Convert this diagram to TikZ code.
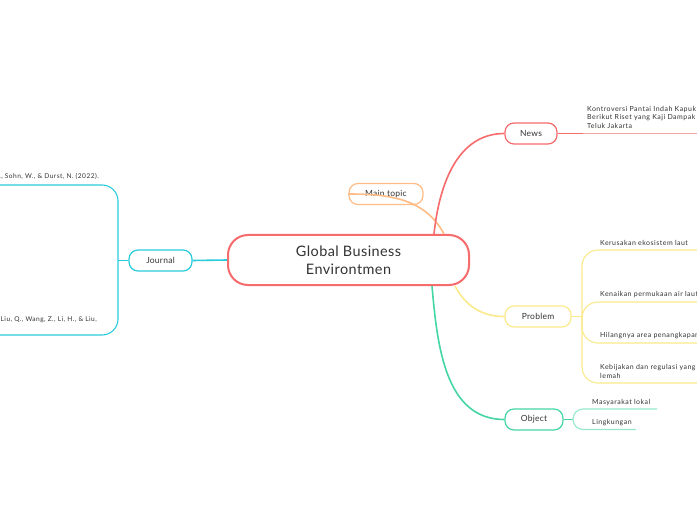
\documentclass[tikz,border=0pt]{standalone}
\usepackage{fontspec}
\setmainfont{Lato}[LetterSpace=3]
\newfontfamily\leaffont{Lato}[LetterSpace=7]
\usetikzlibrary{positioning,calc}

\definecolor{redm}{HTML}{F66B6B}
\definecolor{redl}{HTML}{F9A3A3}
\definecolor{orgm}{HTML}{FFBC86}
\definecolor{yelm}{HTML}{FBEA8C}
\definecolor{grnm}{HTML}{45D6A6}
\definecolor{grnl}{HTML}{95E8CC}
\definecolor{cyam}{HTML}{2ACCDB}
\definecolor{inkc}{HTML}{333333}

\begin{document}
\begin{tikzpicture}[
  x=1bp, y=-1bp,
  every node/.style={text=inkc},
  root/.style={rectangle, draw=redm, line width=2bp, rounded corners=20bp, minimum width=241bp, minimum height=50bp, font=\fontsize{14.5}{18}\selectfont, align=center},
  topic/.style={rectangle, draw, line width=1.2bp, rounded corners=9bp, minimum height=21bp, inner xsep=4bp, font=\fontsize{8.5}{10}\selectfont},
  leaf/.style={anchor=south west, inner sep=0pt, font=\leaffont\fontsize{7}{8.8}\selectfont, align=left},
  branch/.style={line width=1.6bp},
  twig/.style={line width=1.1bp}
]
  \fill[white] (0,0) rectangle (697,520);
  \clip (0,0) rectangle (697,520);

  % central topic and branches
  \node[root] (gbe) at (348.5,260) {Global Business\\Environtmen};
  \node[topic, draw=orgm, minimum width=74bp] (mt) at (386,194) {Main topic};
  \node[topic, draw=redm, minimum width=52bp] (news) at (531,133.5) {News};
  \node[topic, draw=yelm, minimum width=66bp] (prob) at (538,316.5) {Problem};
  \node[topic, draw=grnm, minimum width=58bp] (obj) at (534,419.5) {Object};
  \node[topic, draw=cyam, minimum width=63bp] (jour) at (160.5,260.5) {Journal};

  \draw[branch, orgm] (mt.west) to[out=0, in=118] ([xshift=95.5bp]gbe.north);
  \draw[branch, redm] ([xshift=85.5bp]gbe.north) to[out=84, in=180] (news.west);
  \draw[branch, yelm] ([xshift=106.5bp]gbe.south) to[out=-62, in=180] (prob.west);
  \draw[branch, grnm] ([xshift=83.5bp]gbe.south) to[out=-85, in=180] (obj.west);
  \draw[branch, cyam] (gbe.west) -- (jour.east);

  % News
  \coordinate (nj) at (583,133.5);
  \draw[branch, redm] (news.east) -- (nj);
  \draw[twig, redl] (nj) -- (700,133.5);
  \node[leaf] (n1) at (587,129) {Kontroversi Pantai Indah Kapuk\\Berikut Riset yang Kaji Dampak\\Teluk Jakarta};

  % Problem
  \coordinate (pj) at (582,316.5);
  \draw[branch, yelm] (prob.east) -- (pj);
  \foreach \yy in {250,302,343,383}
    \draw[twig, yelm, rounded corners=16bp] (pj) |- (700,\yy);
  \node[leaf] (p1) at (600,246) {Kerusakan ekosistem laut};
  \node[leaf] (p2) at (600,298) {Kenaikan permukaan air laut};
  \node[leaf] (p3) at (600,339) {Hilangnya area penangkapan};
  \node[leaf] (p4) at (600,379) {Kebijakan dan regulasi yang\\lemah};

  % Object
  \coordinate (oj) at (573,419.5);
  \draw[branch, grnm] (obj.east) -- (oj);
  \draw[twig, grnl, rounded corners=10bp] (oj) |- (657,409);
  \draw[twig, grnl, rounded corners=10bp] (oj) |- (636,429.5);
  \node[leaf] (o1) at (592,406) {Masyarakat lokal};
  \node[leaf] (o2) at (592,425.5) {Lingkungan};

  % Journal
  \coordinate (jj) at (118,260.5);
  \draw[branch, cyam] (jour.west) -- (jj);
  \draw[twig, cyam, rounded corners=16bp] (jj) |- (-5,185);
  \draw[twig, cyam, rounded corners=16bp] (jj) |- (-5,335);
  \node[leaf, anchor=south east, font=\leaffont\fontsize{6.6}{8}\selectfont] (j1) at (99,180) {K., Sohn, W., \& Durst, N. (2022).};
  \node[leaf, anchor=south east, font=\leaffont\fontsize{6.6}{8}\selectfont] (j2) at (97,323) {Liu, Q., Wang, Z., Li, H., \& Liu,};
\end{tikzpicture}
\end{document}
